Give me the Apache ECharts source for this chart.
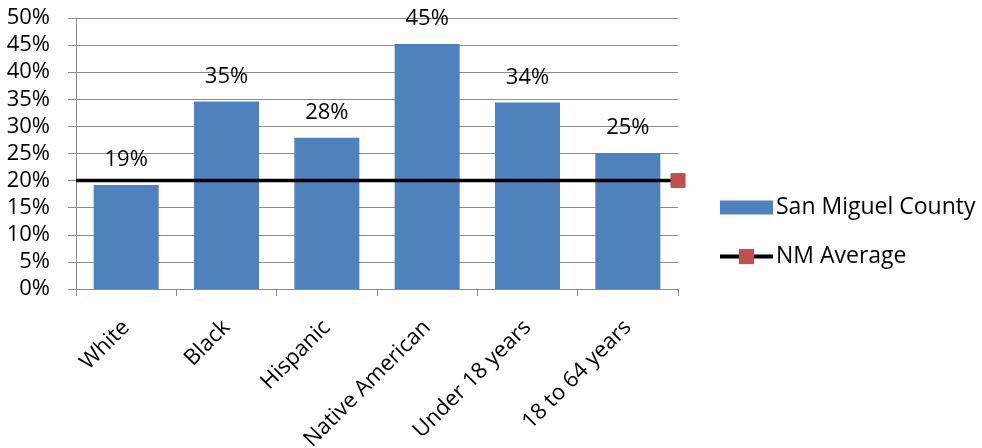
<!DOCTYPE html>
<html>
<head>
<meta charset="utf-8">
<script src="https://cdn.jsdelivr.net/npm/echarts@6/dist/echarts.min.js"></script>
<style>
  html, body { margin: 0; padding: 0; background: #ffffff; }
  #chart { width: 982px; height: 448px; }
</style>
</head>
<body>
<div id="chart"></div>
<script>
// Share of people in poverty by group, San Miguel County vs. New Mexico average
const categories = ['White', 'Black', 'Hispanic', 'Native American', 'Under 18 years', '18 to 64 years'];
const countyValues = [19.2, 34.6, 27.9, 45.2, 34.4, 25.1];
const countyLabels = ['19%', '35%', '28%', '45%', '34%', '25%'];
const nmAverage = 20;
const yTicks = [0, 5, 10, 15, 20, 25, 30, 35, 40, 45, 50];

const FONT = '"Open Sans", "Noto Sans", sans-serif';
const gridColor = '#8c8c8c';

const chart = echarts.init(document.getElementById('chart'), null, { renderer: 'canvas' });

chart.setOption({
  animation: false,
  backgroundColor: '#ffffff',
  textStyle: { fontFamily: FONT, color: '#000000' },
  grid: { left: 76, right: 304, top: 18, bottom: 159, containLabel: false, outerBoundsMode: 'none' },
  legend: {
    orient: 'vertical',
    left: 713,
    top: 191,
    itemGap: 26,
    itemWidth: 53,
    itemHeight: 19,
    textStyle: { fontFamily: FONT, fontSize: 23, color: '#000000', padding: [0, 0, 0, -2] },
    data: [
      // swatch 14px tall, centred in the 19px legend row
      { name: 'San Miguel County', icon: 'path://M0,0L53,0L53,0.01L0,0.01Z M0,2.5L53,2.5L53,16.5L0,16.5Z M0,18.99L53,18.99L53,19L0,19Z' },
      { name: 'NM Average', lineStyle: { width: 4, color: '#000000' } }
    ]
  },
  xAxis: [
    {
      type: 'category',
      data: categories,
      boundaryGap: true,
      axisLine: { show: true, lineStyle: { color: gridColor, width: 1 } },
      axisTick: { show: true, alignWithLabel: false, length: 7, inside: false, lineStyle: { color: gridColor } },
      axisLabel: {
        interval: 0,
        rotate: 45,
        margin: 35,
        fontFamily: FONT,
        fontSize: 22,
        color: '#000000'
      },
      splitLine: { show: false }
    },
    {
      type: 'value',
      min: 0,
      max: 1,
      show: false
    }
  ],
  yAxis: {
    type: 'value',
    min: 0,
    max: 50,
    interval: 5,
    axisLine: { show: true, lineStyle: { color: gridColor, width: 1 } },
    axisTick: { show: true, length: 8, lineStyle: { color: gridColor } },
    axisLabel: {
      margin: 26,
      fontFamily: FONT,
      fontSize: 22,
      color: '#000000',
      formatter: v => (yTicks.includes(v) ? v + '%' : '')
    },
    splitLine: { show: true, lineStyle: { color: gridColor, width: 1 } }
  },
  series: [
    {
      name: 'San Miguel County',
      type: 'bar',
      xAxisIndex: 0,
      data: countyValues,
      barWidth: 65,
      itemStyle: { color: '#4f81bd' },
      label: {
        show: true,
        position: 'top',
        distance: 14,
        fontFamily: FONT,
        fontSize: 22,
        color: '#000000',
        formatter: p => countyLabels[p.dataIndex]
      },
      z: 2
    },
    {
      name: 'NM Average',
      type: 'line',
      xAxisIndex: 1,
      data: [
        { value: [0, nmAverage], symbol: 'none' },
        { value: [1, nmAverage] }
      ],
      symbol: 'rect',
      symbolSize: 14,
      showSymbol: true,
      lineStyle: { color: '#000000', width: 3.5 },
      itemStyle: { color: '#c0504d', borderColor: '#c0504d' },
      z: 3
    }
  ]
});
</script>
</body>
</html>
